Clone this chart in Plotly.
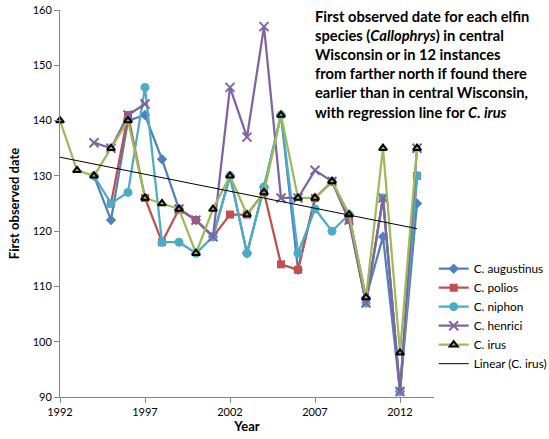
import numpy as np
import plotly.graph_objects as go

years = list(range(1992, 2014))
augustinus = [None, None, 130, 122, 140, 141, 133, 124, 122, 119, 130, 116, 128, 141, 113, 126, 129, 123, 108, 119, 91, 125]
polios = [None, None, None, 125, 141, 126, 118, 124, 122, 119, 123, 123, 127, 114, 113, 126, 129, 122, 107, 126, 91, 130]
niphon = [None, None, 130, 125, 127, 146, 118, 118, 116, 119, 130, 116, 128, 141, 116, 124, 120, 123, 107, 126, 91, 130]
henrici = [None, None, 136, 135, 141, 143, None, 124, 122, 119, 146, 137, 157, 126, 126, 131, 129, 122, 107, 126, 91, 135]
irus = [140, 131, 130, 135, 140, 126, 125, 124, 116, 124, 130, 123, 127, 141, 126, 126, 129, 123, 108, 135, 98, 135]

x_ticks = [1992, 1997, 2002, 2007, 2012]
y_ticks = [90, 100, 110, 120, 130, 140, 150, 160]

FONT = "Lato"
fig = go.Figure()

fig.add_trace(go.Scatter(x=years, y=augustinus, name="C. augustinus", mode="lines+markers",
                         line=dict(color="#4F81BD", width=2.25),
                         marker=dict(symbol="diamond", size=8, color="#4F81BD"),
                         cliponaxis=False))
fig.add_trace(go.Scatter(x=years, y=polios, name="C. polios", mode="lines+markers",
                         line=dict(color="#C0504D", width=2.25),
                         marker=dict(symbol="square", size=8, color="#C0504D"),
                         cliponaxis=False))
fig.add_trace(go.Scatter(x=years, y=niphon, name="C. niphon", mode="lines+markers",
                         line=dict(color="#4BACC6", width=2.25),
                         marker=dict(symbol="circle", size=9, color="#4BACC6"),
                         cliponaxis=False))
fig.add_trace(go.Scatter(x=years, y=henrici, name="C. henrici", mode="lines+markers",
                         line=dict(color="#8064A2", width=2.25),
                         marker=dict(symbol="x-thin", size=9, color="#8064A2",
                                     line=dict(color="#8064A2", width=2)),
                         cliponaxis=False))
fig.add_trace(go.Scatter(x=years, y=irus, name="C. irus", mode="lines+markers",
                         line=dict(color="#9BBB59", width=2.25),
                         marker=dict(symbol="triangle-up", size=7, color="#9BBB59",
                                     line=dict(color="black", width=2)),
                         cliponaxis=False))

yr = np.array(years, dtype=float)
slope, intercept = np.polyfit(yr, np.array(irus, dtype=float), 1)
fit_x = [yr[0], yr[-1]]
fit_y = [slope * v + intercept for v in fit_x]
fig.add_trace(go.Scatter(x=fit_x, y=fit_y, name="Linear (C. irus)", mode="lines",
                         line=dict(color="black", width=1), cliponaxis=False))

title_text = ("First observed date for each elfin<br>"
              "species (<i>Callophrys</i>) in central<br>"
              "Wisconsin or in 12 instances<br>"
              "from farther north if found there<br>"
              "earlier than in central Wisconsin,<br>"
              "with regression line for <i>C. irus</i>")
fig.add_annotation(text=title_text, xref="paper", yref="paper", x=0.676, y=1.013,
                   xanchor="left", yanchor="top", align="left", showarrow=False,
                   font=dict(family=FONT, size=14.7, color="black", weight="bold"))

fig.update_layout(
    width=549, height=439,
    margin=dict(l=60, r=115, t=10, b=42, autoexpand=False),
    paper_bgcolor="white", plot_bgcolor="white",
    font=dict(family=FONT, size=11, color="black"),
    showlegend=True,
    legend=dict(xref="container", yref="container", x=0.79, y=0.421,
                xanchor="left", yanchor="top",
                font=dict(family=FONT, size=11.8), bgcolor="rgba(0,0,0,0)",
                itemwidth=30, tracegroupgap=0),
)
fig.update_xaxes(range=[1992, 2014], tickvals=x_ticks, showgrid=False, zeroline=False,
                 showline=True, linecolor="#868686", linewidth=1, automargin=False,
                 ticks="outside", tickcolor="#868686", ticklen=5,
                 title=dict(text="<b>Year</b>", font=dict(family=FONT, size=13), standoff=2),
                 tickfont=dict(family=FONT, size=11))
fig.update_yaxes(range=[90, 160], tickvals=y_ticks, showgrid=False, zeroline=False,
                 showline=True, linecolor="#868686", linewidth=1, automargin=False,
                 ticks="outside", tickcolor="#868686", ticklen=5,
                 title=dict(text="<b>First observed date</b>", font=dict(family=FONT, size=13), standoff=10),
                 tickfont=dict(family=FONT, size=11))

# remove the page's default body margin so the figure fills the window exactly
fig.write_html("out.html", config={"displayModeBar": False},
               post_script="document.body.style.margin='0';")
